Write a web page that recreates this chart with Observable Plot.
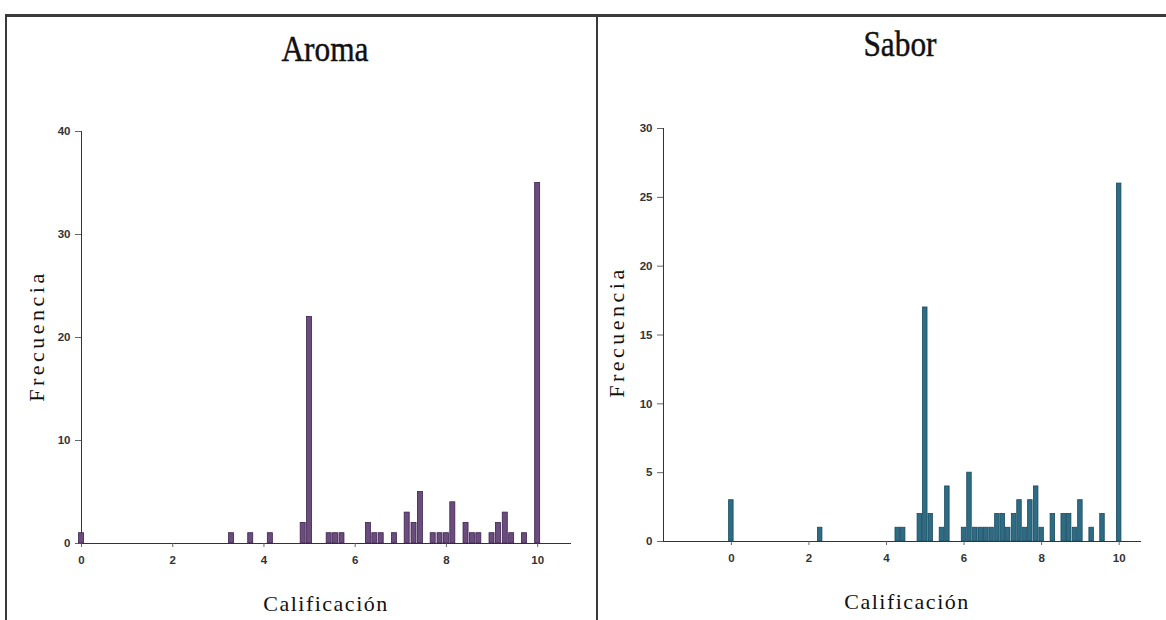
<!DOCTYPE html>
<html>
<head>
<meta charset="utf-8">
<script src="https://cdn.jsdelivr.net/npm/d3@7"></script>
<script src="https://cdn.jsdelivr.net/npm/@observablehq/plot@0.6"></script>
<style>
  html, body { margin: 0; padding: 0; background: #fff; }
  #wrap { position: relative; width: 1166px; height: 620px; overflow: hidden; background: #fff; }
  .panel { position: absolute; top: 0; }
  .title { position: absolute; font-family: "Liberation Serif", "DejaVu Serif", serif; font-size: 33px; color: #111; transform: translateX(-50%) scale(0.95, 1.1); white-space: nowrap; -webkit-text-stroke: 0.4px #111; }
  .xlab { position: absolute; font-family: "Liberation Serif", serif; font-size: 22px; letter-spacing: 1.5px; color: #111; transform: translateX(-50%); white-space: nowrap; }
  .ylab { position: absolute; font-family: "Liberation Serif", serif; font-size: 22px; letter-spacing: 3.5px; color: #111; transform: translate(-50%, -50%) rotate(-90deg); white-space: nowrap; }
  .line { position: absolute; background: #3a3a3a; }
</style>
</head>
<body>
<div id="wrap">
  <div class="line" style="left:5px; top:14px; width:1161px; height:3px;"></div>
  <div class="line" style="left:5px; top:14px; width:2px; height:606px;"></div>
  <div class="line" style="left:596px; top:14px; width:2px; height:606px;"></div>
  <div id="left" class="panel" style="left:0px;"></div>
  <div id="right" class="panel" style="left:597px;"></div>
  <div class="title" style="left:325px; top:31px;">Aroma</div>
  <div class="title" style="left:900px; top:26px;">Sabor</div>
  <div class="ylab" style="left:37px; top:336px;">Frecuencia</div>
  <div class="ylab" style="left:617px; top:332px;">Frecuencia</div>
  <div class="xlab" style="left:326px; top:591px;">Calificación</div>
  <div class="xlab" style="left:907px; top:589px;">Calificación</div>
</div>
<script>
// ---- Data ----
const aromaScores = [0, 3.29, 3.71, 4.14, 4.86, 5, 5.43, 5.57, 5.71, 6.29, 6.43, 6.57, 6.86, 7.14, 7.29, 7.43, 7.71, 7.86, 8, 8.14, 8.43, 8.57, 8.71, 9, 9.14, 9.29, 9.43, 9.71, 10];
const aromaCounts = [1, 1, 1, 1, 2, 22, 1, 1, 1, 2, 1, 1, 1, 3, 2, 5, 1, 1, 1, 4, 2, 1, 1, 1, 2, 3, 1, 1, 35];

const saborScores = [0, 2.29, 4.29, 4.43, 4.86, 5, 5.14, 5.43, 5.57, 6, 6.14, 6.29, 6.43, 6.57, 6.71, 6.86, 7, 7.14, 7.29, 7.43, 7.57, 7.71, 7.86, 8, 8.29, 8.57, 8.71, 8.86, 9, 9.29, 9.57, 10];
const saborCounts = [3, 1, 1, 1, 2, 17, 2, 1, 4, 1, 5, 1, 1, 1, 1, 2, 2, 1, 2, 3, 1, 3, 4, 1, 2, 2, 2, 1, 3, 1, 2, 26];

const xTicks = [0, 2, 4, 6, 8, 10];
const aromaYTicks = [0, 10, 20, 30, 40];
const saborYTicks = [0, 5, 10, 15, 20, 25, 30];

const aroma = aromaScores.map((s, i) => ({score: s, n: aromaCounts[i]}));
const sabor = saborScores.map((s, i) => ({score: s, n: saborCounts[i]}));

function chart(data, opts) {
  const hw = opts.barHalf;
  return Plot.plot({
    width: opts.width,
    height: 620,
    marginLeft: opts.ml,
    marginRight: opts.mr,
    marginTop: opts.mt,
    marginBottom: opts.mb,
    style: {background: "transparent", fontFamily: "'Liberation Sans', Arial, sans-serif", fontSize: "11.5px", fontWeight: "bold", color: "#333", overflow: "visible"},
    x: {domain: opts.xdomain, ticks: xTicks, tickSize: 4, tickPadding: 8, label: null, line: true},
    y: {domain: opts.ydomain, ticks: opts.yticks, tickSize: 6, tickPadding: 5, label: null, line: true},
    marks: [
      Plot.rectY(data, {
        x1: d => d.score - hw,
        x2: d => d.score + hw,
        y1: 0,
        y2: "n",
        fill: opts.fill,
        stroke: opts.stroke,
        strokeWidth: 0.8
      })
    ]
  });
}

const left = chart(aroma, {
  width: 597, ml: 81, mr: 27, mt: 131, mb: 77,
  xdomain: [0, 10.72], ydomain: [0, 40], yticks: aromaYTicks,
  barHalf: 0.055, fill: "#6b4c7c", stroke: "#3b2350"
});
const right = chart(sabor, {
  width: 569, ml: 66, mr: 26, mt: 128, mb: 79,
  xdomain: [-1.75, 10.55], ydomain: [0, 30], yticks: saborYTicks,
  barHalf: 0.058, fill: "#2d6c84", stroke: "#184a5e"
});

for (const svg of [left, right]) {
  svg.querySelectorAll("[aria-label$='axis'] path, [aria-label$='tick'] path").forEach(p => p.setAttribute("stroke", "#666"));
}
document.getElementById("left").appendChild(left);
document.getElementById("right").appendChild(right);
</script>
</body>
</html>
